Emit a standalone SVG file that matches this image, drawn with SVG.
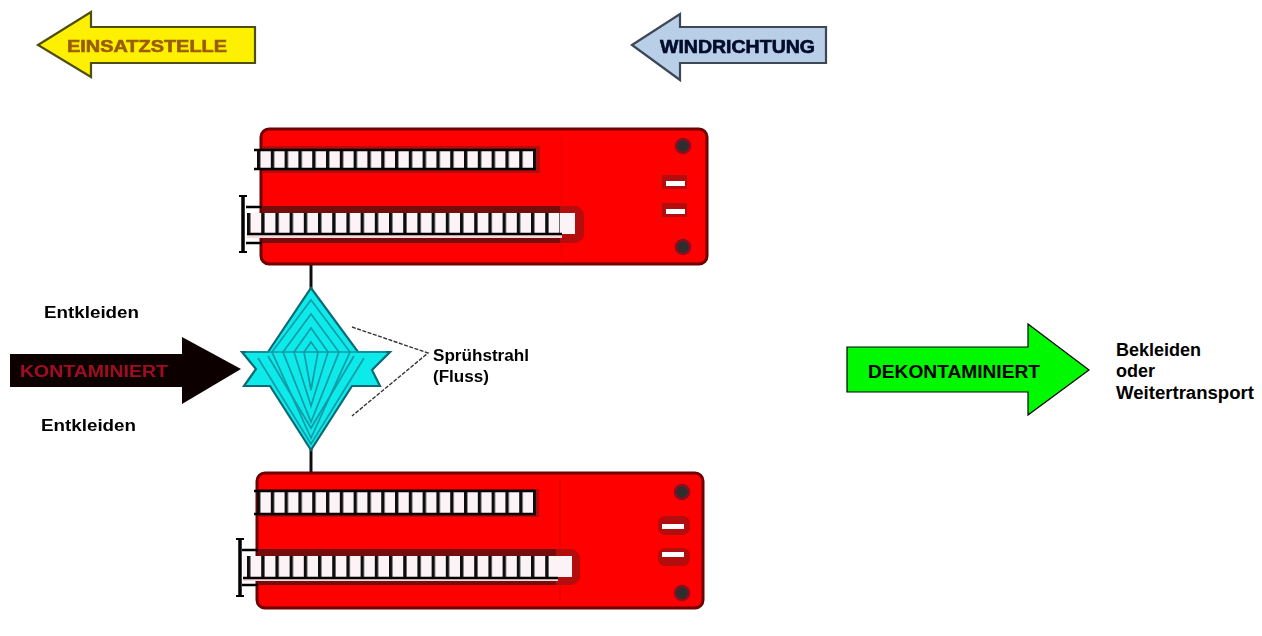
<svg xmlns="http://www.w3.org/2000/svg" width="1262" height="636" viewBox="0 0 1262 636">
<style>
.lo{font-family:"Liberation Sans",Arial,sans-serif}
.b{font-weight:700}
.red{fill:#fe0000;stroke:#700404;stroke-width:3}
.rail{fill:none;stroke:#000;stroke-width:2.400}
.ln{fill:none;stroke:#111;stroke-width:3}
.teal{fill:none;stroke:#139aa8;stroke-width:1.700}
.edge{fill:#0ceaea;stroke:#106a74;stroke-width:2.200}
.t{fill:#000;font-size:16px;font-weight:700}
.hi{font-size:18px;font-weight:700;fill:#000}
.halo{fill:#b40808}
.knob{fill:#2e2e2e;stroke:#8a1020;stroke-width:2.500}
</style>
<defs>
<filter id="soft" x="-5%" y="-5%" width="110%" height="110%"><feGaussianBlur stdDeviation="0.6"/></filter>
<pattern id="rungs1" x="257" y="0" width="13.800" height="20" patternUnits="userSpaceOnUse"><rect width="13.800" height="20" fill="#fbf3f6"/><rect x="0" width="3.400" height="20" fill="#111"/></pattern>
<pattern id="rungs2" x="247" y="0" width="14.200" height="20" patternUnits="userSpaceOnUse"><rect width="14.200" height="20" fill="#fbf3f6"/><rect x="0" width="3.400" height="20" fill="#111"/></pattern>
</defs>
<g id="connectors" filter="url(#soft)">
<path class="ln" d="M311 264V292M311 446V474"/>
<path d="M352 327L428 353L352 416" fill="none" stroke="#333" stroke-width="1.400" stroke-dasharray="4 1.500"/>
</g>
<g id="einsatzstelle" filter="url(#soft)">
<path d="M38 45L91 12V27H255V63H91V77Z" fill="#fdf000" stroke="#4f4f10" stroke-width="2.200"/>
<text class="lo b" x="67" y="52" font-size="17" fill="#9a5c00" stroke="#9a5c00" stroke-width="0.600" textLength="160" lengthAdjust="spacingAndGlyphs">EINSATZSTELLE</text>
</g>
<g id="windrichtung" filter="url(#soft)">
<path d="M632 45L680 14V27H826V63H680V80Z" fill="#b9cfe8" stroke="#3c4656" stroke-width="2.200"/>
<text class="lo b" x="660" y="53" font-size="18" fill="#00082a" stroke="#00082a" stroke-width="0.600" textLength="155" lengthAdjust="spacingAndGlyphs">WINDRICHTUNG</text>
</g>
<g id="truck-top" filter="url(#soft)">
<rect class="red" x="261" y="129" width="446" height="135" rx="8"/>
<path d="M561 135V258" stroke="#e80000" stroke-width="1"/>
<rect class="halo" x="262" y="146" width="278" height="27"/>
<rect x="257" y="151" width="279" height="18" fill="url(#rungs1)"/>
<path class="rail" d="M254 150H536M254 169H536"/>
<rect class="halo" x="262" y="206" width="322" height="37" rx="10"/>
<rect x="262" y="206" width="298" height="37" fill="#750707"/>
<rect x="247" y="213" width="328" height="21" fill="url(#rungs2)"/>
<rect x="560" y="213" width="15" height="21" fill="#fbf3f6"/>
<rect x="247" y="235" width="315" height="3" fill="#f8d8dc"/>
<path class="rail" d="M246 207H262M246 243H262M247 234H562"/>
<path d="M243 196V252" stroke="#000" stroke-width="3.500"/>
<path d="M239 196H247M239 252H247" stroke="#000" stroke-width="2"/>
<circle class="knob" cx="683" cy="146" r="7"/>
<circle class="knob" cx="683" cy="247" r="7"/>
<rect class="halo" x="662" y="175" width="25" height="14"/>
<rect class="halo" x="662" y="203" width="25" height="14"/>
<rect x="666" y="181" width="19" height="5" fill="#fff"/>
<rect x="666" y="209" width="19" height="5" fill="#fff"/>
</g>
<g id="truck-bottom" filter="url(#soft)">
<rect class="red" x="257" y="473" width="446" height="135" rx="8"/>
<path d="M560 480V600" stroke="#e00000" stroke-width="1"/>
<rect class="halo" x="258" y="489" width="281" height="28"/>
<rect x="257" y="492" width="279" height="21" fill="url(#rungs1)"/>
<path class="rail" d="M254 491H536M254 514H536"/>
<rect class="halo" x="258" y="549" width="322" height="36" rx="10"/>
<rect x="258" y="549" width="298" height="36" fill="#750707"/>
<rect x="243" y="556" width="329" height="21" fill="url(#rungs2)"/>
<rect x="556" y="556" width="16" height="21" fill="#fbf3f6"/>
<rect x="243" y="578" width="315" height="3" fill="#f8d8dc"/>
<path class="rail" d="M242 550H258M242 585H258M243 578H558"/>
<path d="M240 539V596" stroke="#000" stroke-width="3.500"/>
<path d="M236 539H244M236 596H244" stroke="#000" stroke-width="2"/>
<circle class="knob" cx="682" cy="492" r="7"/>
<circle class="knob" cx="682" cy="593" r="7"/>
<rect x="658" y="516" width="32" height="19" rx="8" class="halo"/>
<rect x="658" y="548" width="32" height="18" rx="8" class="halo"/>
<rect x="662" y="524" width="22" height="5" fill="#fff"/>
<rect x="662" y="552" width="22" height="5" fill="#fff"/>
</g>
<g id="kontaminiert" filter="url(#soft)">
<path d="M10 354H182V337L241 369L182 404V387H10Z" fill="#0a0000"/>
<text class="lo b" x="20" y="377" font-size="16" fill="#a01020" textLength="148" lengthAdjust="spacingAndGlyphs">KONTAMINIERT</text>
</g>
<g id="spray" filter="url(#soft)">
<path class="edge" d="M311 288L358 352H390L372 370L380 386H352L311 450L270 386H244L256 369L242 352H268Z"/>
<path class="teal" d="M246 352H386"/>
<path class="teal" d="M311 300L350 352L311 438L272 352Z M311 314L339 352L311 422L283 352Z M311 328L328 352L311 406L294 352Z M311 342L318 352L311 390L304 352Z"/>
<path class="teal" d="M258 358L311 444L364 358M268 356L311 428L354 356"/>
</g>
<g id="labels" filter="url(#soft)">
<text class="lo t" x="44" y="318" textLength="95" lengthAdjust="spacingAndGlyphs">Entkleiden</text>
<text class="lo t" x="41" y="431" textLength="95" lengthAdjust="spacingAndGlyphs">Entkleiden</text>
<text class="lo t" x="433" y="361" textLength="96" lengthAdjust="spacingAndGlyphs">Sprühstrahl</text>
<text class="lo t" x="433" y="382" textLength="56" lengthAdjust="spacingAndGlyphs">(Fluss)</text>
</g>
<g id="dekontaminiert">
<path d="M847 347H1028V324L1089 370L1028 415V392H847Z" fill="#00f800" stroke="#000" stroke-width="1.200"/>
<text class="lo hi" x="868" y="378" textLength="172" lengthAdjust="spacingAndGlyphs">DEKONTAMINIERT</text>
</g>
<g id="status">
<text class="lo hi" x="1116" y="356">Bekleiden</text>
<text class="lo hi" x="1116" y="377">oder</text>
<text class="lo hi" x="1116" y="399" textLength="138" lengthAdjust="spacingAndGlyphs">Weitertransport</text>
</g>
</svg>
